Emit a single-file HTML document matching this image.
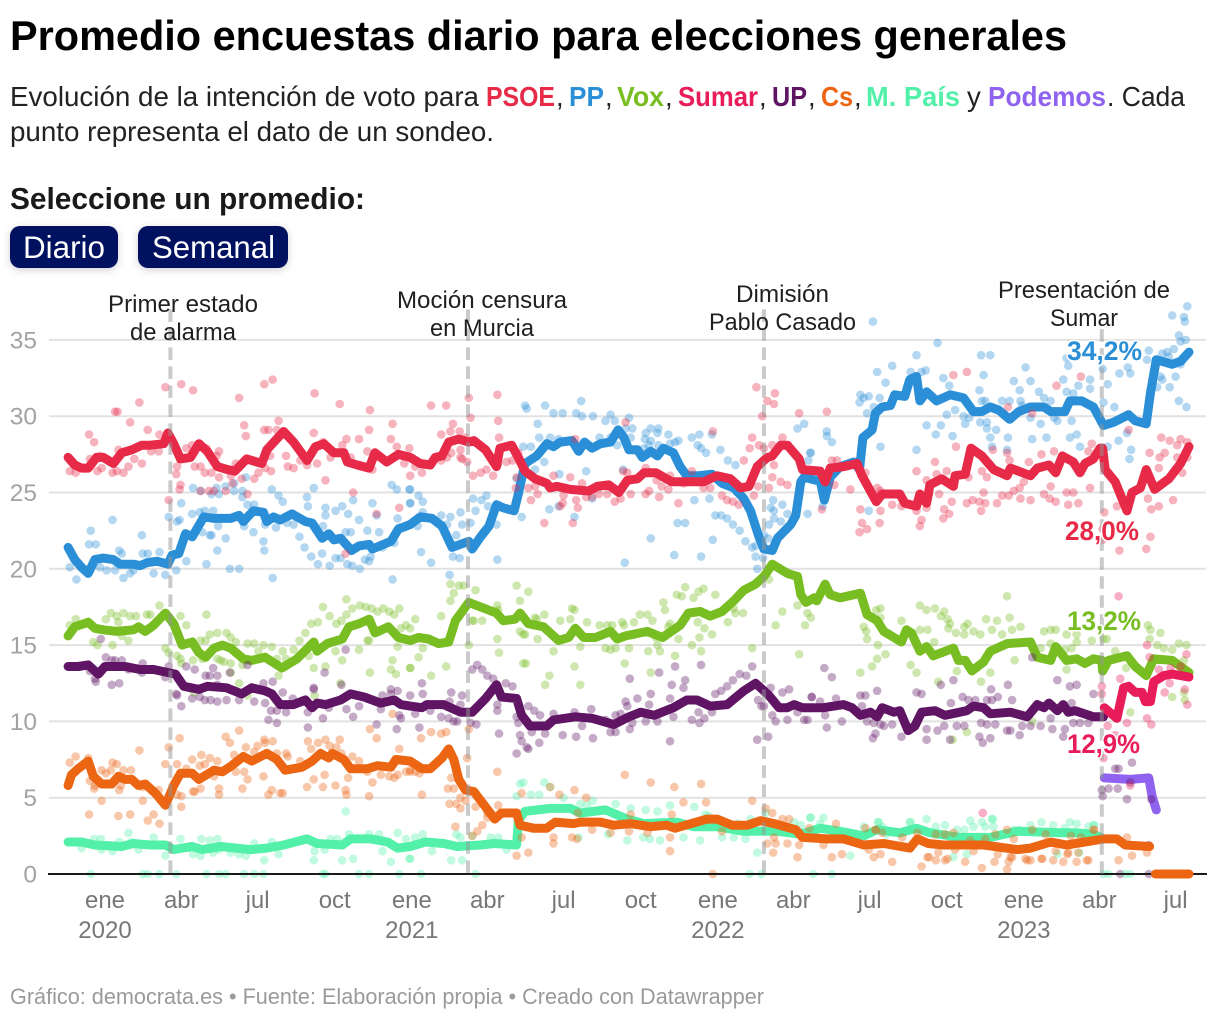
<!DOCTYPE html>
<html lang="es">
<head>
<meta charset="utf-8">
<title>Promedio encuestas diario para elecciones generales</title>
<style>
html,body{margin:0;padding:0;background:#fff;width:1220px;height:1020px;overflow:hidden}
svg{display:block}
text{font-family:"Liberation Sans",sans-serif}
.sub{font-size:27.5px;fill:#222}
.subb{font-size:27.5px;font-weight:700}
.ann{font-size:24.5px;fill:#1f1f1f}
.lab{font-size:27px;font-weight:700;paint-order:stroke;stroke:#fff;stroke-width:3px;stroke-linejoin:round}
.btn{cursor:pointer}
</style>
</head>
<body>
<svg id="page" xmlns="http://www.w3.org/2000/svg" width="1220" height="1020" viewBox="0 0 1220 1020">
<rect x="0" y="0" width="1220" height="1020" fill="#fff"/>
<text x="10" y="50" font-size="41.5" font-weight="700" fill="#000" textLength="1057" lengthAdjust="spacingAndGlyphs">Promedio encuestas diario para elecciones generales</text>
<g>
<text class="sub" x="10" y="106" textLength="469" lengthAdjust="spacingAndGlyphs">Evolución de la intención de voto para</text>
<text class="subb" x="486" y="106" fill="#e62a47" textLength="69" lengthAdjust="spacingAndGlyphs">PSOE</text>
<text class="sub" x="556" y="106">,</text>
<text class="subb" x="569" y="106" fill="#2b8fd8" textLength="35" lengthAdjust="spacingAndGlyphs">PP</text>
<text class="sub" x="605" y="106">,</text>
<text class="subb" x="617" y="106" fill="#78bd22" textLength="47" lengthAdjust="spacingAndGlyphs">Vox</text>
<text class="sub" x="665" y="106">,</text>
<text class="subb" x="678" y="106" fill="#e81c58" textLength="80" lengthAdjust="spacingAndGlyphs">Sumar</text>
<text class="sub" x="759" y="106">,</text>
<text class="subb" x="772" y="106" fill="#5f1464" textLength="35" lengthAdjust="spacingAndGlyphs">UP</text>
<text class="sub" x="808" y="106">,</text>
<text class="subb" x="821" y="106" fill="#ec6513" textLength="32" lengthAdjust="spacingAndGlyphs">Cs</text>
<text class="sub" x="854" y="106">,</text>
<text class="subb" x="866" y="106" fill="#52f0a8" textLength="94" lengthAdjust="spacingAndGlyphs">M. País</text>
<text class="sub" x="967" y="106">y</text>
<text class="subb" x="988" y="106" fill="#8f63f0" textLength="118" lengthAdjust="spacingAndGlyphs">Podemos</text>
<text class="sub" x="1107" y="106" textLength="78" lengthAdjust="spacingAndGlyphs">. Cada</text>
<text class="sub" x="10" y="141" textLength="484" lengthAdjust="spacingAndGlyphs">punto representa el dato de un sondeo.</text>
</g>
<text x="10" y="209" font-size="30.5" font-weight="700" fill="#1a1a1a" textLength="355" lengthAdjust="spacingAndGlyphs">Seleccione un promedio:</text>
<g class="btn">
<rect x="10" y="226" width="108" height="42" rx="10" fill="#00125f" style="filter:drop-shadow(0 2px 4px rgba(0,0,0,.18))"/>
<text x="23" y="258" font-size="31.5" fill="#fff" textLength="82" lengthAdjust="spacingAndGlyphs">Diario</text>
</g>
<g class="btn">
<rect x="138" y="226" width="150" height="42" rx="10" fill="#00125f" style="filter:drop-shadow(0 2px 4px rgba(0,0,0,.18))"/>
<text x="152" y="258" font-size="31.5" fill="#fff" textLength="123" lengthAdjust="spacingAndGlyphs">Semanal</text>
</g>
<g id="chart"></g>
<g>
<g>
<text class="ann" x="108" y="312" textLength="150" lengthAdjust="spacingAndGlyphs">Primer estado</text>
<text class="ann" x="130" y="340" textLength="106" lengthAdjust="spacingAndGlyphs">de alarma</text>
</g>
<g>
<text class="ann" x="397" y="308" textLength="170" lengthAdjust="spacingAndGlyphs">Moción censura</text>
<text class="ann" x="430" y="336" textLength="104" lengthAdjust="spacingAndGlyphs">en Murcia</text>
</g>
<g>
<text class="ann" x="736" y="302" textLength="93" lengthAdjust="spacingAndGlyphs">Dimisión</text>
<text class="ann" x="709" y="330" textLength="147" lengthAdjust="spacingAndGlyphs">Pablo Casado</text>
</g>
<g>
<text class="ann" x="998" y="298" textLength="172" lengthAdjust="spacingAndGlyphs">Presentación de</text>
<text class="ann" x="1050" y="326" textLength="68" lengthAdjust="spacingAndGlyphs">Sumar</text>
</g>
</g>
<g>
<text class="lab" x="1067" y="360" fill="#2b8fd8" textLength="75" lengthAdjust="spacingAndGlyphs">34,2%</text>
<text class="lab" x="1065" y="540" fill="#e62a47" textLength="74" lengthAdjust="spacingAndGlyphs">28,0%</text>
<text class="lab" x="1067" y="630" fill="#78bd22" textLength="74" lengthAdjust="spacingAndGlyphs">13,2%</text>
<text class="lab" x="1067" y="753" fill="#e81c58" textLength="73" lengthAdjust="spacingAndGlyphs">12,9%</text>
</g>
<text x="10" y="1004" font-size="22.5" fill="#9a9a9a" textLength="754" lengthAdjust="spacingAndGlyphs">Gráfico: democrata.es • Fuente: Elaboración propia • Creado con Datawrapper</text>
</svg>
<script>
// Value axis ticks
const yTicks = [0, 5, 10, 15, 20, 25, 30, 35];
// Date axis ticks, days since 2020-01-01
const xTickDays = [0, 91, 182, 274, 366, 456, 547, 639, 731, 821, 912, 1004, 1096, 1186, 1277];
const xTickLabels = ["ene", "abr", "jul", "oct", "ene", "abr", "jul", "oct", "ene", "abr", "jul", "oct", "ene", "abr", "jul"];
const yearDays = [0, 366, 731, 1096];
const yearLabels = ["2020", "2021", "2022", "2023"];
// Event days
const eventDays = [78, 433, 786, 1189];
const eventTopValues = [37, 37, 37, 35.7];

// Daily averages [day, percent]
const psoeLine = [[-44,27.3],[-36,26.8],[-28,26.6],[-20,26.6],[-10,27.3],[-2,27.3],[10,26.9],[20,27.6],[32,27.8],[44,28.1],[54,28.1],[70,28.2],[75,28.9],[82,28.2],[90,27.2],[102,27.3],[112,28.2],[122,27.7],[134,26.7],[146,26.5],[155,26.4],[169,27.2],[187,26.9],[193,27.8],[213,29.0],[225,28.3],[241,27.1],[251,28.0],[261,28.2],[273,27.6],[285,27.6],[289,27.0],[301,26.8],[315,26.6],[322,27.6],[336,27.0],[350,27.5],[364,27.3],[376,26.9],[388,26.8],[394,27.3],[402,27.4],[410,28.3],[422,28.5],[434,28.3],[440,28.4],[454,27.8],[467,26.7],[471,27.9],[485,28.1],[493,27.3],[501,26.4],[513,25.9],[527,25.6],[531,25.3],[539,25.4],[555,25.2],[577,25.1],[587,25.4],[601,25.5],[613,25.0],[623,25.8],[635,25.9],[643,26.3],[657,26.3],[676,25.7],[690,25.7],[706,25.7],[714,25.7],[730,26.1],[746,25.9],[758,25.3],[768,25.4],[778,26.7],[790,27.3],[796,27.4],[806,28.1],[814,28.1],[828,27.2],[832,26.5],[853,26.4],[859,25.7],[865,26.6],[881,26.7],[897,26.9],[903,26.1],[911,25.3],[920,24.4],[927,24.9],[948,24.9],[954,24.3],[968,24.1],[972,24.9],[980,24.3],[984,25.5],[998,25.9],[1012,25.4],[1014,26.1],[1026,26.2],[1033,27.9],[1046,27.4],[1060,26.5],[1076,26.1],[1080,26.6],[1104,26.1],[1112,26.6],[1126,26.8],[1134,26.3],[1142,27.4],[1155,27.0],[1163,26.3],[1169,26.9],[1179,27.2],[1187,27.9],[1190,27.9],[1193,26.5],[1205,25.7],[1219,23.8],[1225,25.0],[1235,25.3],[1242,26.5],[1252,25.2],[1269,25.9],[1283,26.9],[1293,28.0]];
const ppLine = [[-44,21.4],[-36,20.6],[-28,20.1],[-20,19.7],[-12,20.6],[-2,20.7],[10,20.6],[18,20.3],[34,20.3],[42,20.2],[50,20.4],[62,20.5],[75,20.3],[80,20.9],[88,21.0],[96,22.3],[104,22.1],[118,23.4],[130,23.3],[150,23.3],[160,23.5],[165,23.1],[177,23.8],[189,23.7],[193,23.1],[201,23.4],[209,23.2],[223,23.6],[239,23.1],[247,23.0],[259,22.0],[267,22.3],[273,21.9],[281,22.0],[294,21.2],[303,21.5],[315,21.6],[319,21.3],[341,21.8],[350,22.6],[364,22.9],[376,23.4],[390,23.3],[402,22.8],[414,21.4],[434,21.8],[438,21.3],[448,22.1],[458,22.8],[467,24.2],[475,24.0],[488,23.8],[493,24.9],[501,26.9],[515,27.4],[527,28.2],[535,28.0],[543,28.3],[557,28.4],[565,27.7],[572,28.3],[581,27.9],[591,28.2],[603,28.3],[612,29.1],[619,28.6],[625,27.8],[635,27.8],[641,27.3],[651,27.7],[659,27.4],[666,27.9],[678,27.6],[686,26.7],[694,26.1],[708,26.1],[724,26.2],[736,25.6],[750,25.3],[762,24.6],[770,23.8],[780,22.1],[786,21.3],[796,21.2],[802,22.0],[818,22.9],[824,23.5],[830,25.7],[834,26.0],[848,25.8],[853,25.8],[858,24.5],[865,26.0],[877,26.7],[893,27.0],[900,26.5],[904,28.6],[915,29.1],[919,30.2],[927,30.6],[937,30.7],[942,31.4],[954,31.3],[960,32.4],[968,32.6],[972,31.0],[980,31.6],[992,31.0],[1008,31.4],[1024,31.2],[1036,30.3],[1046,30.3],[1056,30.6],[1066,30.4],[1079,29.8],[1090,30.3],[1104,30.6],[1120,30.6],[1128,30.3],[1145,30.3],[1151,31.0],[1165,31.0],[1179,30.6],[1191,29.4],[1203,29.6],[1221,30.1],[1229,29.7],[1242,29.5],[1247,31.5],[1254,33.7],[1273,33.4],[1283,33.6],[1293,34.2]];
const voxLine = [[-44,15.6],[-36,16.2],[-20,16.5],[-12,16.1],[-2,16.0],[14,15.9],[34,16.0],[40,16.2],[48,15.9],[58,16.3],[72,17.1],[82,16.4],[92,15.0],[104,15.2],[112,14.5],[120,14.2],[130,14.8],[140,15.0],[150,14.8],[165,14.1],[175,14.0],[191,14.2],[211,13.5],[229,14.1],[249,15.2],[253,14.6],[265,15.1],[283,15.4],[291,16.2],[303,16.4],[315,16.7],[322,15.8],[338,16.2],[350,15.5],[364,15.3],[374,15.5],[386,15.4],[398,15.1],[410,15.2],[418,16.6],[434,17.8],[467,17.1],[475,16.6],[489,16.7],[495,17.1],[505,16.4],[523,16.2],[541,15.3],[553,15.5],[561,16.1],[571,15.5],[585,15.5],[603,15.9],[611,15.4],[621,15.6],[647,15.9],[665,15.5],[686,16.3],[696,17.1],[710,17.2],[722,16.9],[736,17.2],[750,17.9],[762,18.6],[776,19.0],[786,19.5],[796,20.3],[814,19.7],[826,19.5],[830,18.3],[836,17.8],[846,18.1],[849,17.9],[859,19.0],[865,18.3],[877,18.1],[901,18.4],[909,17.0],[921,16.6],[929,15.9],[950,15.2],[956,16.0],[962,15.8],[972,14.6],[980,14.9],[988,14.3],[1012,14.8],[1018,14.0],[1026,14.0],[1034,13.3],[1048,13.9],[1056,14.6],[1076,15.1],[1104,15.2],[1112,14.2],[1128,14.0],[1134,14.9],[1147,14.0],[1159,14.1],[1169,13.8],[1179,14.1],[1189,14.0],[1190,13.3],[1197,14.0],[1219,14.3],[1229,13.6],[1242,13.0],[1251,14.1],[1273,14.0],[1293,13.2]];
const upLine = [[-44,13.6],[-32,13.6],[-20,13.7],[-8,13.1],[0,13.6],[24,13.6],[42,13.4],[58,13.4],[84,13.1],[94,12.3],[112,12.1],[122,12.3],[145,12.2],[163,11.8],[175,12.2],[191,12.0],[199,11.8],[209,11.1],[225,11.1],[239,11.4],[247,10.9],[253,11.2],[263,11.1],[281,11.4],[293,11.8],[309,11.6],[329,11.2],[345,11.4],[353,11.1],[364,11.0],[378,10.9],[384,11.1],[404,11.1],[424,10.6],[438,10.6],[454,11.5],[467,12.4],[473,11.6],[491,11.5],[497,10.4],[507,9.7],[527,9.7],[535,10.1],[561,10.3],[581,10.2],[607,9.8],[625,10.3],[639,10.6],[655,10.4],[678,10.9],[694,11.4],[706,11.4],[722,11.0],[742,11.1],[762,12.0],[776,12.5],[792,11.7],[804,10.9],[814,10.9],[822,11.1],[832,10.9],[857,10.9],[881,11.1],[891,10.9],[901,10.4],[913,10.6],[921,10.3],[927,10.9],[941,10.6],[948,10.7],[958,9.4],[966,9.7],[974,10.6],[990,10.7],[1002,10.4],[1028,10.7],[1036,11.0],[1048,10.9],[1056,10.5],[1080,10.6],[1100,10.3],[1112,11.1],[1120,10.9],[1126,11.2],[1136,10.7],[1143,11.1],[1149,10.6],[1157,10.7],[1179,10.3],[1191,10.3]];
const csLine = [[-44,5.8],[-40,6.5],[-32,6.9],[-20,7.4],[-14,6.4],[-4,5.9],[8,5.9],[16,6.4],[24,6.2],[32,6.2],[40,5.8],[48,5.9],[60,5.3],[72,4.5],[82,5.8],[90,6.6],[104,6.6],[112,6.2],[130,6.8],[140,6.7],[151,7.1],[165,7.7],[175,7.4],[193,7.9],[205,7.5],[215,6.8],[235,7.0],[247,7.4],[257,7.9],[267,7.6],[271,7.9],[285,7.5],[293,6.9],[313,6.9],[325,7.1],[341,7.0],[347,7.5],[364,7.4],[378,6.9],[388,6.9],[402,7.6],[410,8.2],[416,7.5],[422,6.2],[430,5.5],[440,5.4],[465,3.6],[473,4.0],[491,4.0],[495,3.2],[511,3.0],[527,3.0],[537,3.4],[559,3.3],[567,3.4],[591,3.4],[607,3.2],[627,3.3],[651,3.1],[670,3.2],[680,3.0],[718,3.6],[730,3.6],[748,3.2],[766,3.2],[782,3.5],[798,3.3],[824,2.9],[832,2.4],[861,2.3],[881,2.3],[905,1.9],[929,2.0],[960,1.7],[969,2.3],[982,2.0],[1000,1.9],[1048,1.9],[1088,1.6],[1104,1.7],[1128,2.1],[1147,1.9],[1191,2.3],[1207,2.3],[1217,1.9],[1246,1.8]];
const csZeroLine = [[1253,0],[1293,0]];
const mpaisLine = [[-44,2.1],[-28,2.1],[-12,1.9],[20,1.8],[34,2.0],[54,1.9],[72,1.9],[82,1.6],[104,1.8],[116,1.6],[138,1.8],[174,1.6],[193,1.7],[213,1.9],[241,2.3],[253,2.0],[283,1.9],[293,2.3],[317,2.3],[337,2.1],[349,1.7],[364,1.8],[382,2.1],[404,2.0],[420,1.8],[448,1.9],[464,2.0],[491,1.9],[493,3.5],[501,4.1],[531,4.3],[555,4.3],[567,4.0],[597,4.2],[623,3.6],[643,3.3],[682,3.4],[702,3.1],[730,3.1],[762,2.8],[802,2.8],[830,2.6],[853,3.0],[877,2.8],[905,2.5],[921,2.9],[948,2.7],[968,3.0],[984,2.7],[1020,2.4],[1056,2.4],[1088,2.8],[1140,2.7],[1159,2.7],[1179,2.6],[1191,2.3]];
const sumarLine = [[1192,10.9],[1207,10.2],[1215,12.2],[1221,12.3],[1229,11.9],[1237,11.9],[1241,11.3],[1247,11.3],[1251,12.6],[1263,13.0],[1273,13.1],[1293,12.9]];
const podemosLine = [[1192,6.3],[1223,6.2],[1245,6.3],[1249,5.1],[1254,4.2]];

// Individual polls [day, percent]
const psoePolls = [[72,31.9],[91,32.1],[105,31.7],[200,32.4],[190,32.1],[160,31.2],[250,31.5],[280,30.8],[41,30.9],[12,30.3],[15,30.3],[30,29.6],[316,30.4],[207,29.7],[166,29.4],[343,29.5],[315,29.1],[51,29.1],[190,29.1],[195,29.1],[205,29.1],[249,28.9],[-19,28.8],[65,28.8],[-13,28.3],[168,28.7],[288,28.5],[303,28.5],[341,28.5],[283,28.1],[260,28.3],[348,28.0],[363,27.9],[113,28.2],[104,28.1],[97,27.9],[121,27.9],[136,27.7],[55,27.7],[64,27.7],[16,27.8],[-18,27.2],[-6,27.4],[35,27.2],[133,27.4],[197,27.4],[313,27.7],[293,27.3],[233,27.1],[269,27.3],[357,26.9],[-42,26.4],[-35,26.3],[-9,26.4],[-4,26.6],[9,26.3],[14,26.4],[22,26.3],[28,26.7],[44,26.9],[86,26.7],[107,26.7],[114,26.7],[119,26.3],[127,26.3],[136,26.0],[150,26.1],[156,26.9],[152,25.6],[163,25.9],[85,26.2],[90,25.5],[89,25.2],[76,24.5],[114,25.1],[124,25.1],[130,25.1],[144,25.1],[170,24.9],[178,25.9],[183,26.3],[191,26.6],[198,26.4],[216,27.4],[218,26.7],[225,26.6],[241,26.8],[253,26.9],[263,25.8],[296,25.0],[351,24.0],[324,23.6],[287,21.0],[319,26.5],[364,26.1],
[389,30.7],[407,30.7],[434,31.2],[468,31.4],[436,29.9],[469,29.7],[415,29.5],[412,29.0],[423,29.0],[401,28.8],[470,28.6],[430,28.6],[424,27.8],[413,27.6],[408,27.3],[401,27.1],[424,27.3],[426,27.2],[432,27.0],[370,26.7],[378,26.3],[439,26.1],[448,26.3],[455,26.5],[463,26.1],[479,27.0],[486,27.1],[469,26.9],[493,27.6],[491,26.0],[490,25.3],[505,25.3],[513,25.4],[516,24.9],[508,24.5],[535,26.1],[537,25.4],[549,25.3],[547,24.8],[555,26.0],[569,25.6],[562,24.5],[564,24.0],[543,24.1],[546,24.3],[524,23.0],[558,23.0],[581,24.7],[574,24.7],[589,24.9],[599,24.9],[608,24.4],[615,24.6],[618,26.4],[623,26.3],[627,24.9],[645,24.9],[649,25.1],[645,26.6],[658,25.8],[661,24.7],[664,25.4],[674,26.1],[672,25.2],[684,24.3],[690,25.6],[700,26.4],[714,25.3],[722,25.3],[736,24.8],[742,24.5],[749,24.4],[756,24.2],[762,27.1],[774,24.8],[779,25.4],[792,25.3],[796,26.0],[806,25.7],[814,25.5],[769,27.9],[772,28.6],[780,28.1],[796,28.1],[808,28.6],[786,27.9],[798,26.8],[784,30.0],[790,31.0],[798,30.8],[799,31.5],[777,31.9],[828,30.2],[725,29.0],[621,29.6],[561,28.5],
[1012,32.7],[1028,32.9],[1164,32.6],[1135,32.0],[1077,30.6],[861,30.3],[1106,30.2],[1221,29.1],[1260,28.6],[1270,28.4],[1283,28.5],[1291,28.3],[1279,28.1],[1015,28.0],[1177,28.2],[1059,27.8],[1076,27.6],[1132,27.7],[1117,27.5],[1173,27.7],[1246,27.6],[1291,27.3],[1264,27.6],[1258,27.3],[1279,27.3],[990,27.0],[1079,27.1],[1102,27.0],[867,27.1],[873,27.1],[1257,26.6],[1285,26.3],[968,26.4],[1028,26.6],[1046,26.4],[907,26.3],[992,26.2],[1004,26.4],[1030,26.0],[1052,26.0],[1096,25.7],[980,25.8],[889,25.2],[870,25.5],[921,25.3],[925,25.1],[1048,25.0],[1084,25.1],[1091,25.3],[1070,24.8],[1078,24.8],[1092,24.6],[1120,24.9],[1128,25.4],[1127,24.6],[1147,25.0],[1155,25.0],[1175,25.3],[983,24.9],[995,24.9],[1010,24.4],[1028,24.3],[1035,24.5],[1043,24.4],[1050,24.3],[1064,24.3],[1104,24.5],[1134,24.4],[1149,24.2],[1161,24.3],[1244,24.6],[1274,24.5],[1257,24.1],[1248,23.9],[1207,24.1],[939,24.2],[950,24.1],[901,23.9],[925,23.8],[980,24.0],[968,23.8],[1001,23.9],[1007,23.6],[1000,23.3],[1045,23.8],[855,23.9],[1192,23.7],[974,23.2],[972,22.8],[924,23.0],[903,23.0],[909,22.6],[900,22.4],[1190,22.6],[1190,21.9],[1247,22.1],[1210,21.2],[1242,21.3]];
const ppPolls = [[9,23.2],[-17,22.5],[44,22.2],[-19,21.6],[-11,21.6],[17,21.2],[20,21.0],[65,21.1],[45,21.0],[51,21.0],[-42,20.1],[-6,20.1],[2,19.9],[12,19.9],[34,19.9],[30,19.7],[22,19.4],[-34,19.3],[58,19.7],[72,19.6],[97,20.5],[85,19.9],[76,23.4],[86,23.1],[89,23.2],[91,24.3],[105,25.3],[114,25.1],[127,24.9],[133,25.3],[136,24.9],[144,25.4],[154,25.6],[154,25.1],[164,24.7],[164,25.1],[168,26.0],[170,24.2],[178,24.2],[104,23.6],[113,23.7],[119,23.8],[129,23.8],[116,22.4],[125,22.2],[127,22.2],[135,22.8],[144,22.0],[134,21.2],[121,20.3],[149,20.0],[160,20.0],[200,19.4],[189,21.8],[190,21.2],[177,22.4],[166,22.8],[191,22.9],[204,22.7],[199,25.2],[207,24.8],[212,24.4],[217,23.0],[225,22.9],[232,22.1],[238,21.4],[246,20.8],[254,20.3],[259,21.0],[268,20.2],[275,20.7],[281,20.7],[289,20.3],[295,20.2],[304,20.0],[310,20.6],[315,20.5],[317,20.8],[313,22.5],[303,23.2],[293,22.4],[287,22.4],[290,23.6],[283,24.1],[275,23.8],[263,24.0],[263,23.5],[260,22.8],[241,24.7],[242,24.1],[249,25.3],[296,24.5],[319,24.3],[324,23.5],[327,22.4],[331,21.4],[345,21.7],[342,25.5],[348,25.2],[363,25.2],[364,24.3],[349,23.3],[351,22.7],[343,19.3],
[501,30.7],[503,30.5],[525,30.7],[535,30.2],[546,30.2],[562,30.2],[568,31.0],[569,30.0],[582,30.0],[603,30.1],[597,29.7],[608,29.7],[625,29.9],[621,29.2],[629,29.2],[516,29.5],[518,28.6],[541,28.5],[531,28.6],[560,28.2],[590,28.6],[603,28.6],[611,28.1],[627,28.6],[645,28.9],[651,29.2],[660,29.2],[659,28.9],[672,28.8],[644,28.5],[651,28.4],[649,28.1],[643,27.9],[660,28.1],[674,28.2],[680,28.3],[684,28.4],[700,28.6],[709,28.8],[707,28.1],[711,27.9],[717,27.6],[724,28.8],[734,27.8],[743,27.1],[752,26.8],[499,28.0],[508,28.0],[493,27.3],[524,27.0],[513,26.5],[491,25.9],[542,26.2],[574,26.4],[618,26.5],[581,24.6],[703,24.5],[721,24.6],[374,24.8],[379,24.4],[379,23.7],[364,25.2],[364,24.3],[439,24.6],[449,24.5],[455,24.8],[442,23.8],[457,24.1],[530,23.9],[541,24.1],[497,23.4],[560,23.4],[401,23.5],[412,23.4],[373,22.8],[408,22.9],[424,23.7],[426,22.9],[436,23.0],[467,22.9],[419,22.2],[651,22.0],[725,21.9],[679,20.9],[683,23.0],[692,23.0],[711,20.8],[620,20.4],[468,20.6],[415,20.8],[423,20.7],[377,21.1],[389,20.4],[411,19.6],[728,23.5],[735,23.5],[742,23.3],[749,22.9],[757,22.5],[764,21.8],[772,21.4],[776,21.5],[791,22.0],[786,22.2],[776,20.8],[785,20.7],[778,20.0],[794,24.0],[798,23.8],[797,24.5],[808,24.2],[814,23.6],[798,23.3],[806,23.1],[792,22.9],[838,23.6],[842,27.6],[839,27.1],[826,29.2],[834,29.5],
[916,36.2],[993,34.8],[968,34.0],[1045,34.0],[1056,34.0],[939,33.3],[921,32.9],[1147,33.8],[1245,34.3],[1243,33.7],[1291,37.2],[1273,36.6],[1287,36.5],[1288,36.2],[1281,35.3],[1283,34.9],[1289,35.0],[1261,34.1],[1267,34.2],[1275,34.4],[1269,33.9],[1283,33.4],[1277,32.6],[1259,32.6],[1261,32.4],[1255,31.9],[1270,31.9],[1281,31.0],[1290,30.6],[1149,33.3],[1098,33.2],[1048,32.7],[979,33.0],[961,32.9],[974,32.9],[931,32.2],[1000,32.5],[1084,32.3],[1104,32.3],[1143,32.4],[1175,32.4],[1161,32.0],[1196,32.1],[1190,33.1],[1220,33.2],[1210,32.8],[1223,32.8],[1007,32.0],[1043,31.7],[1091,31.7],[1114,31.6],[1147,31.6],[1155,31.5],[1175,31.8],[901,31.4],[905,31.2],[911,31.3],[900,30.9],[924,31.2],[917,30.6],[909,30.2],[1120,31.2],[1128,31.0],[1046,31.0],[1050,31.0],[1070,31.0],[1079,31.0],[1092,31.0],[1094,30.7],[1191,30.9],[1014,30.4],[1004,30.1],[1024,30.0],[1031,29.9],[1026,29.5],[1080,29.8],[1104,29.9],[1116,29.5],[1136,29.7],[1132,29.9],[1153,29.7],[1204,30.6],[980,29.4],[997,29.4],[1044,29.6],[1052,29.6],[1052,29.2],[1063,29.1],[1011,28.7],[991,28.8],[1056,28.6],[1077,28.6],[1106,28.5],[1123,28.6],[1151,28.6],[1159,28.8],[1219,28.9],[1209,28.4],[1058,28.0],[1076,27.8],[1163,28.0],[1196,28.0],[1224,27.8],[968,27.8],[925,28.0],[1222,27.2],[841,27.6],[861,29.0],[861,28.7],[867,28.3],[856,24.1],[911,23.8]];
const voxPolls = [[65,17.6],[121,17.0],[-42,16.3],[-35,16.7],[1,16.7],[7,17.1],[14,16.9],[22,17.1],[16,16.5],[30,16.9],[37,16.9],[50,17.0],[54,17.0],[90,16.9],[97,16.3],[20,15.6],[28,15.3],[-14,15.2],[-9,15.0],[9,15.0],[72,14.8],[76,14.5],[86,14.3],[90,14.1],[91,13.8],[105,14.0],[114,15.3],[120,15.3],[125,15.7],[134,15.8],[145,15.8],[150,15.5],[156,15.2],[170,15.1],[178,15.1],[183,14.6],[189,15.0],[199,14.9],[205,14.1],[212,14.6],[216,14.1],[225,14.7],[232,15.3],[239,15.8],[246,16.4],[254,16.5],[260,17.5],[268,16.9],[276,16.4],[282,16.6],[288,17.0],[288,18.0],[295,17.4],[304,17.6],[311,17.5],[318,17.4],[325,17.2],[332,17.4],[339,17.2],[345,17.0],[351,17.4],[353,16.1],[359,16.3],[364,16.1],[315,15.3],[313,15.3],[349,14.9],[303,14.7],[275,14.6],[243,14.3],[343,14.0],[341,13.4],[347,13.1],[316,13.2],[364,13.5],[283,14.0],[249,13.5],[263,13.6],[116,14.1],[134,14.1],[138,14.0],[142,13.9],[150,13.8],[164,13.7],[207,13.0],[150,13.2],[281,12.5],[250,11.7],[106,11.9],[160,12.5],[170,11.7],
[491,18.9],[505,18.5],[442,18.6],[428,18.9],[412,19.0],[422,18.9],[416,18.4],[412,17.9],[495,17.9],[401,16.9],[370,16.7],[438,16.6],[450,16.6],[440,16.6],[468,17.6],[469,17.3],[513,16.8],[524,17.0],[515,16.7],[543,16.6],[557,17.4],[560,17.3],[555,16.7],[575,16.5],[590,16.3],[599,16.3],[605,16.3],[617,16.5],[619,16.3],[631,16.5],[638,17.0],[647,17.0],[653,16.6],[666,17.8],[674,16.4],[682,18.3],[688,18.2],[692,18.8],[702,18.1],[708,18.5],[714,18.7],[728,18.3],[668,17.3],[672,16.2],[750,17.4],[761,17.1],[752,17.1],[792,19.3],[808,17.2],[800,16.3],[826,17.6],[835,16.3],[838,17.1],[842,16.8],[743,16.5],[724,15.7],[715,16.1],[707,16.5],[709,15.5],[700,15.0],[684,15.4],[657,15.5],[659,15.0],[662,14.6],[648,14.6],[625,14.8],[609,14.8],[603,14.7],[597,14.8],[567,14.9],[535,14.6],[516,15.4],[495,15.9],[499,15.7],[501,15.7],[468,15.4],[434,15.0],[470,14.5],[379,14.8],[374,14.2],[680,14.3],[711,14.6],[772,14.8],[828,14.4],[560,13.6],[499,13.8],[502,13.8],[407,13.6],[364,13.5],[620,13.8],[651,13.2],[389,13.0],[530,13.0],[525,12.4],[567,12.4],
[1076,18.2],[1051,16.7],[1079,16.8],[972,17.6],[980,17.3],[990,17.4],[1001,17.2],[997,16.9],[1005,16.7],[1008,16.4],[1029,16.4],[1025,16.2],[1064,16.6],[1092,16.2],[1082,16.0],[1070,15.7],[1058,16.0],[1044,15.7],[1036,15.9],[1025,15.7],[1015,15.8],[1006,16.1],[981,16.0],[972,16.0],[950,16.6],[905,16.2],[908,15.9],[909,15.4],[925,17.4],[920,17.3],[925,16.8],[922,15.0],[931,14.4],[921,14.1],[915,13.6],[901,13.2],[961,13.7],[968,13.2],[989,15.2],[1016,13.3],[1045,12.6],[994,12.6],[1056,13.2],[1085,14.0],[1120,15.9],[1128,16.0],[1134,16.0],[1147,15.7],[1159,15.7],[1177,15.3],[1191,15.4],[1195,15.4],[1159,15.2],[1153,14.8],[1145,14.7],[1128,15.1],[1116,14.8],[1147,13.4],[1205,14.6],[1218,13.5],[1244,16.3],[1247,16.0],[1259,15.8],[1246,15.4],[1255,15.0],[1263,14.8],[1273,14.7],[1281,15.1],[1290,15.0],[1287,14.0],[1287,11.9],[1273,11.6],[1288,11.4],[1223,10.6],[1011,8.8],[1028,9.3],[1106,10.0]];
const upPolls = [[-5,15.4],[1,14.2],[8,14.0],[12,14.0],[20,14.0],[-18,13.3],[-12,12.8],[-11,12.6],[8,12.4],[17,12.5],[28,13.4],[45,13.8],[44,13.2],[72,12.9],[76,13.6],[86,11.7],[85,11.8],[97,13.6],[107,13.4],[91,11.0],[104,11.5],[113,11.6],[119,11.4],[126,11.4],[134,11.3],[145,11.4],[160,11.4],[178,11.3],[120,13.0],[125,13.0],[134,13.0],[129,13.5],[149,13.2],[134,12.4],[170,13.7],[189,12.5],[200,12.6],[191,11.2],[195,10.1],[198,10.7],[205,10.7],[205,9.9],[212,11.9],[224,11.5],[216,10.6],[242,10.6],[242,9.6],[249,12.2],[249,12.1],[260,10.2],[262,13.2],[287,14.7],[282,12.4],[288,10.8],[296,10.3],[303,11.0],[324,9.8],[329,10.8],[331,11.7],[341,12.1],[349,12.0],[341,11.8],[351,10.4],[353,10.2],[348,9.5],[364,11.7],[267,10.9],
[444,13.7],[438,13.4],[450,13.4],[456,13.0],[463,12.8],[478,12.5],[486,12.3],[378,12.5],[379,11.8],[413,11.9],[426,11.7],[411,11.3],[424,11.1],[370,10.5],[388,10.7],[401,10.3],[410,10.2],[416,10.0],[420,10.0],[375,9.6],[436,9.9],[443,9.8],[468,11.1],[468,10.7],[470,9.2],[491,10.3],[493,9.9],[505,11.0],[512,10.7],[519,10.4],[535,10.5],[495,9.1],[497,8.7],[491,7.9],[503,8.3],[505,8.2],[518,8.6],[509,9.3],[525,9.2],[546,9.1],[562,9.0],[582,8.9],[569,9.7],[580,10.8],[560,10.6],[597,10.1],[603,9.3],[609,9.3],[609,10.4],[615,10.5],[626,12.8],[621,11.3],[623,11.0],[635,11.5],[651,11.8],[649,11.1],[661,13.2],[680,13.6],[676,12.4],[692,12.7],[690,12.2],[711,13.7],[674,11.5],[674,8.7],[626,9.5],[629,9.9],[645,10.0],[659,10.0],[678,10.3],[700,10.1],[709,9.9],[715,10.2],[724,10.6],[708,10.6],[728,11.8],[735,12.0],[742,12.3],[749,12.7],[757,13.1],[765,13.0],[772,13.6],[779,11.4],[783,11.0],[786,11.0],[778,8.8],[791,9.0],[794,12.2],[796,10.4],[800,10.0],[808,11.9],[816,12.1],[814,10.1],[826,10.6],[834,10.1],[838,10.1],[843,11.6],[853,11.3],
[858,13.5],[867,12.9],[843,11.6],[872,11.5],[859,10.4],[879,10.0],[861,9.6],[901,11.7],[907,11.7],[903,11.0],[921,12.0],[909,10.0],[917,9.9],[925,9.8],[929,9.7],[919,9.2],[916,8.9],[939,9.8],[950,9.0],[968,11.9],[974,11.8],[980,9.5],[980,8.8],[993,9.4],[1001,9.7],[997,12.4],[1012,12.7],[1009,11.2],[1008,8.8],[1016,9.7],[1025,9.7],[1023,11.6],[1030,11.4],[1038,11.4],[1043,9.0],[1047,8.6],[1056,8.9],[1045,9.9],[1052,9.8],[1062,9.8],[1058,11.4],[1065,11.6],[1052,11.4],[1057,12.1],[1077,12.4],[1082,11.4],[1076,9.4],[1080,9.4],[1094,9.7],[1091,9.1],[1106,14.2],[1104,9.7],[1116,9.7],[1128,10.2],[1136,12.7],[1130,9.5],[1145,9.5],[1143,9.0],[1151,12.3],[1159,12.4],[1153,11.2],[1155,9.9],[1163,9.9],[1173,9.9],[1179,11.8],[1205,6.9],[1209,6.9],[1225,7.3],[1189,5.5],[1190,5.1],[1197,5.6],[1208,5.6],[1219,4.9],[1223,6.0],[1248,4.9],[1245,1.9],[1211,0],[1245,0]];
const csPolls = [[-42,7.3],[-35,7.7],[-20,7.6],[-18,6.1],[-12,5.8],[-13,5.6],[-4,4.8],[-19,3.9],[-4,6.8],[1,6.6],[9,7.3],[14,7.2],[7,6.8],[22,6.8],[31,6.8],[19,5.8],[17,5.5],[16,3.8],[30,3.9],[41,8.1],[45,5.7],[45,4.8],[51,3.5],[58,3.9],[65,3.3],[64,5.5],[72,7.2],[76,8.3],[86,7.2],[89,8.9],[86,5.2],[91,5.1],[91,4.4],[97,6.9],[104,7.5],[105,5.4],[107,5.4],[114,5.6],[115,7.8],[113,7.1],[119,7.2],[125,7.6],[134,7.4],[130,6.4],[136,5.6],[136,5.2],[144,9.0],[149,8.6],[154,7.8],[160,9.4],[156,6.7],[166,6.7],[170,6.2],[164,5.6],[168,8.3],[178,8.0],[182,8.4],[190,8.8],[191,8.6],[200,8.7],[189,6.4],[195,5.2],[199,5.5],[209,5.3],[212,5.3],[205,7.9],[216,7.9],[218,7.7],[233,7.4],[242,8.7],[246,8.2],[254,8.6],[263,8.8],[268,8.4],[276,8.3],[280,8.8],[282,7.9],[295,7.7],[303,7.4],[241,5.7],[249,6.2],[262,6.5],[260,5.7],[275,5.8],[290,6.3],[287,5.5],[288,5.2],[315,5.1],[319,6.0],[313,6.7],[316,9.5],[324,8.9],[329,6.5],[339,6.4],[345,6.3],[349,6.5],[343,10.5],[351,8.2],[359,6.7],[364,6.7],
[377,8.9],[389,9.3],[401,9.2],[407,9.3],[364,6.8],[370,6.7],[375,6.6],[432,7.6],[434,9.5],[413,6.3],[409,5.6],[416,5.6],[378,5.2],[411,4.6],[419,4.6],[424,5.0],[430,4.8],[424,4.3],[442,4.4],[468,6.7],[469,4.5],[456,4.0],[456,3.7],[418,3.1],[450,3.2],[444,2.8],[438,2.5],[491,1.2],[505,1.4],[497,5.3],[531,5.7],[542,5.2],[560,5.5],[574,5.0],[564,4.0],[535,2.0],[535,2.4],[557,2.4],[563,2.3],[497,2.4],[581,2.9],[603,2.7],[625,2.8],[620,6.5],[651,6.0],[679,5.7],[711,5.9],[690,4.7],[717,4.7],[676,3.9],[674,1.5],[674,2.4],[647,2.7],[627,3.9],[772,4.8],[788,4.3],[796,4.0],[808,3.6],[816,3.6],[790,2.0],[797,1.4],[798,2.4],[800,2.0],[814,2.0],[826,1.1],[828,1.9],[840,3.0],[736,2.8],[725,0],
[872,3.3],[867,1.1],[879,1.3],[907,3.0],[857,1.9],[911,1.6],[917,1.1],[925,1.3],[939,0.8],[919,2.9],[974,0.5],[981,1.1],[991,0.9],[994,1.4],[1002,0.9],[1014,1.6],[1026,0.8],[1046,0.4],[1061,0.8],[1076,0.3],[1080,1.1],[1100,0.9],[1104,0.9],[1118,1.0],[1143,0.8],[1159,0.8],[1171,0.9],[1161,1.4],[1149,1.4],[1179,2.9],[1219,2.4],[1209,0.9],[1225,1.2],[1243,1.4],
[919,2.9],[927,2.7],[951,2.4],[969,2.7],[991,2.6],[1002,2.6],[1012,2.7],[1032,2.2],[1050,2.3],[1062,2.6],[1076,2.9],[1084,2.3],[1106,2.9],[1122,2.6],[1152,2.5],[1164,2.4],[1180,2.9],[983,1.1],[1005,1.0],[1036,1.5],[1065,1.3],[1078,0.8],[1082,1.1],[1098,1.0],[1117,1.0],[1131,0.9],[1134,1.5],[1148,1.3],[1173,0.9]];
const mpaisPolls = [[28,2.7],[-13,2.3],[-5,2.3],[-28,1.7],[-4,1.6],[9,1.5],[17,2.1],[31,2.1],[40,1.6],[58,2.4],[72,1.2],[90,2.3],[105,1.3],[114,1.2],[115,2.3],[125,2.2],[134,2.3],[136,1.6],[129,1.4],[150,1.4],[160,1.3],[168,1.2],[178,2.0],[190,0.9],[199,2.1],[207,1.3],[249,0.9],[250,1.5],[262,1.6],[269,2.3],[277,2.3],[283,0.9],[296,1.0],[287,4.1],[291,2.6],[315,2.6],[327,2.6],[331,1.5],[341,0.8],[349,2.7],[359,2.3],[363,1.0],[-17,0],[45,0],[51,0],[65,0],[85,0],[121,0],[136,0],[144,0],[166,0],[178,0],[189,0],[260,0],[263,0],[303,0],[315,0],[351,0],
[370,2.4],[379,2.6],[364,1.0],[390,1.5],[413,0.9],[426,0.9],[419,2.6],[424,2.4],[438,2.5],[460,2.4],[469,2.4],[479,1.6],[495,5.9],[499,6.0],[524,6.0],[491,5.1],[508,5.2],[518,5.2],[531,5.7],[547,5.0],[567,4.6],[575,4.5],[582,4.8],[609,4.6],[627,4.3],[645,4.2],[659,4.1],[674,4.5],[703,4.4],[716,3.9],[623,2.2],[662,2.2],[710,2.2],[565,2.4],[690,2.4],[750,2.4],[764,2.3],[778,1.4],[842,3.7],[853,3.3],[788,4.0],[808,3.2],[377,0],[442,0],[769,0],[783,0],[845,0],
[841,3.7],[857,3.7],[889,1.2],[867,0],[905,3.1],[923,3.4],[960,3.4],[980,3.6],[1032,3.5],[1046,3.4],[1058,3.6],[1104,3.2],[1117,3.4],[1151,3.4],[1179,3.2],[1145,3.0],[932,2.6],[1012,1.1],[1191,0],[1197,0],[1217,0],[1223,0],
[922,3.4],[927,3.1],[961,3.4],[991,3.1],[1002,3.2],[1016,2.9],[1025,2.9],[1036,3.1],[1050,3.1],[1059,3.6],[1060,3.1],[1084,2.9],[1091,2.9],[1131,3.2],[1159,3.3],[1173,3.1],[1180,3.2],[1028,1.3],[1136,1.3],[1162,1.4],[642,2.4],[650,2.3],[736,2.4],[600,2.6],[720,3.8],[755,3.3],[770,3.6],[822,3.4],[830,3.2]];
const sumarPolls = [[1209,18.2],[1211,12.8],[1189,12.3],[1189,11.8],[1243,15.0],[1290,14.4],[1246,14.2],[1257,13.4],[1271,13.5],[1283,13.6],[1270,12.5],[1264,11.9],[1288,12.1],[1291,11.1],[1243,10.2],[1248,9.8],[1219,9.9],[1196,9.7],[1205,9.1],[1191,7.6],[1223,5.8],[1047,4.0]];

const SVGNS = 'http://www.w3.org/2000/svg';
const chart = document.getElementById('chart');
function xScale(day){ return 105 + day * 306 / 365; }
function yScale(value){ return 874 - value * 15.26; }
function make(tag, attrs, parent){
  const el = document.createElementNS(SVGNS, tag);
  for (const key in attrs) el.setAttribute(key, attrs[key]);
  parent.appendChild(el);
  return el;
}

// grid and y ticks
yTicks.forEach(function(tick){
  if (tick !== 0) {
    const grid = make('line', {x1: 49, x2: 1206, y1: yScale(tick), y2: yScale(tick), stroke: '#e2e2e2', 'stroke-width': 2}, chart);
    
    
  }
  const label = make('text', {x: 37, y: yScale(tick) + 8.5, 'text-anchor': 'end', 'font-size': 24.5, fill: '#a3a3a3'}, chart);
  
  
  label.textContent = tick;
});

// x ticks
xTickDays.forEach(function(day, i){
  const label = make('text', {x: xScale(day), y: 908, 'text-anchor': 'middle', 'font-size': 24, fill: '#777'}, chart);
  
  
  label.textContent = xTickLabels[i];
});
yearDays.forEach(function(day, i){
  const label = make('text', {x: xScale(day), y: 938, 'text-anchor': 'middle', 'font-size': 24, fill: '#777'}, chart);
  
  
  label.textContent = yearLabels[i];
});

// poll dots
function drawDots(polls, color, name){
  const group = make('g', {fill: color, 'fill-opacity': 0.36}, chart);
  
  
  polls.forEach(function(p){
    const dot = make('circle', {cx: xScale(p[0]), cy: yScale(p[1]), r: 4.3}, group);
    
    
  });
}
// average lines
function drawLine(points, color, name){
  const d = points.map(function(p, i){ return (i ? 'L' : 'M') + xScale(p[0]).toFixed(1) + ' ' + yScale(p[1]).toFixed(1); }).join('');
  const line = make('path', {d: d, fill: 'none', stroke: color, 'stroke-width': 9, 'stroke-linejoin': 'round', 'stroke-linecap': 'round'}, chart);
  
  
}
// series are stacked line by line: each party's dots sit over earlier parties' lines
drawLine(podemosLine, '#8f63f0', 'podemos');
drawDots(ppPolls, '#2b8fd8', 'pp');
drawLine(ppLine, '#2b8fd8', 'pp');
drawDots(psoePolls, '#e62a47', 'psoe');
drawLine(psoeLine, '#e62a47', 'psoe');
drawDots(voxPolls, '#78bd22', 'vox');
drawLine(voxLine, '#78bd22', 'vox');
drawDots(upPolls, '#5f1464', 'up');
drawLine(upLine, '#5f1464', 'up');
drawLine(mpaisLine, '#52f0a8', 'mas-pais');
drawDots(mpaisPolls, '#52f0a8', 'mas-pais');
drawDots(csPolls, '#ec6513', 'cs');
drawLine(csLine, '#ec6513', 'cs');
drawDots(sumarPolls, '#e81c58', 'sumar');
drawLine(sumarLine, '#e81c58', 'sumar');

// zero axis
const axis = make('line', {x1: 48, x2: 1207, y1: yScale(0), y2: yScale(0), stroke: '#1a1a1a', 'stroke-width': 2}, chart);


drawLine(csZeroLine, '#ec6513', 'cs-zero');

// event lines
eventDays.forEach(function(day, i){
  const eventLine = make('line', {x1: xScale(day), x2: xScale(day), y1: yScale(eventTopValues[i]), y2: yScale(0), stroke: 'rgba(150,150,150,.5)', 'stroke-width': 4, 'stroke-dasharray': '12.5 6.5'}, chart);
  
  
});
</script>
</body>
</html>
